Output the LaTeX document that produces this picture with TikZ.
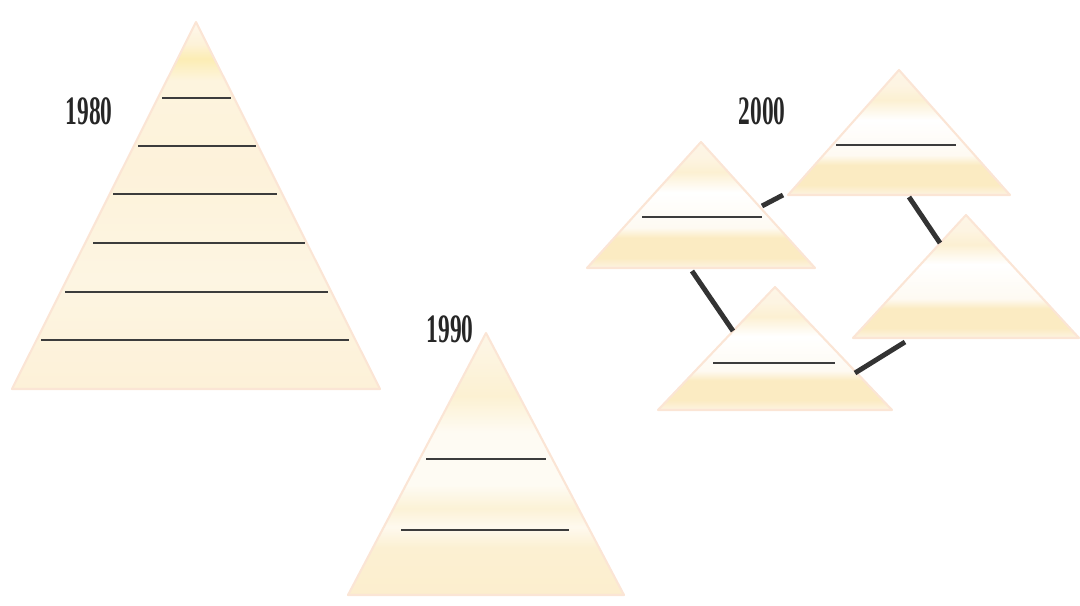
\documentclass[tikz,border=0pt]{standalone}
\usepackage{fontspec}
\setmainfont{Liberation Serif}
\usepackage{tikz}
\definecolor{pyredge}{HTML}{FBE5D5}
\definecolor{rulegray}{HTML}{3C3C3C}
\definecolor{linkgray}{HTML}{333333}
\definecolor{labelgray}{HTML}{262626}
\definecolor{creamA}{HTML}{FDF1D8}
\definecolor{creamB}{HTML}{FDF5E2}
\definecolor{creamC}{HTML}{FDF2DA}
\definecolor{creamD}{HTML}{FDF4DE}
\definecolor{yelspot}{HTML}{FCEDB4}
\definecolor{creamE}{HTML}{FDF2D8}
\definecolor{creamF}{HTML}{FEF7EC}
\definecolor{ninA}{HTML}{FCEECE}
\definecolor{ninB}{HTML}{FCF0D2}
\definecolor{ninC}{HTML}{FEF9EE}
\definecolor{ninD}{HTML}{FCF2D6}
\definecolor{ninE}{HTML}{FEFBF3}
\definecolor{ninF}{HTML}{FCF1D2}
\definecolor{ninG}{HTML}{FDF5E4}
\definecolor{newA}{HTML}{FDF3E2}
\definecolor{newB}{HTML}{FBEBC2}
\definecolor{newC}{HTML}{FEFAF2}
\definecolor{newD}{HTML}{FCF0D2}
\definecolor{newE}{HTML}{FDF4E2}
\definecolor{newF}{HTML}{FDF5E6}
% one shading per era, bottom (25bp) to top (75bp)
\pgfdeclareverticalshading{pyr80}{100bp}{color(0bp)=(creamA); color(25bp)=(creamA);
  color(40bp)=(creamB); color(55bp)=(creamC);
  color(67bp)=(creamD); color(70bp)=(yelspot); color(72bp)=(creamE);
  color(75bp)=(creamF); color(100bp)=(creamF)}
\pgfdeclareverticalshading{pyr90}{100bp}{color(0bp)=(ninA); color(25bp)=(ninA);
  color(34bp)=(ninB); color(38bp)=(ninC); color(41.5bp)=(ninD);
  color(46bp)=(ninE); color(56bp)=(ninE); color(63bp)=(ninF);
  color(73bp)=(ninG); color(100bp)=(ninG)}
\pgfdeclareverticalshading{pyr00}{100bp}{color(0bp)=(newA); color(25bp)=(newA);
  color(29bp)=(newB); color(37bp)=(newB); color(41bp)=(newC);
  color(55bp)=(white); color(63bp)=(newD); color(69bp)=(newE);
  color(75bp)=(newF); color(100bp)=(newF)}

\begin{document}
\begin{tikzpicture}[x=0.02cm, y=-0.02cm, line width=0.7pt,
  year/.style={font=\bfseries\fontsize{23}{23}\selectfont, text=labelgray, inner sep=0pt},
  rule/.style={draw=rulegray, line width=1.1pt},
  link/.style={draw=linkgray, line width=2.8pt}]
% a pyramid: #1 apex x, #2 apex y, #3 half base, #4 height, #5 shading
\newcommand{\pyramid}[5]{%
  \shadedraw[shading=#5, draw=pyredge, line width=1.2pt, line join=round]
    (#1,#2) -- ({#1+#3},{#2+#4}) -- ({#1-#3},{#2+#4}) -- cycle;}
\useasboundingbox (0,0) rectangle (1080,606);

% 1980: one tall pyramid with many levels
\pyramid{196}{22}{184}{367}{pyr80}
\draw[rule] (162,98) -- (231,98);
\draw[rule] (138,146) -- (256,146);
\draw[rule] (113,194) -- (277,194);
\draw[rule] (93,243) -- (305,243);
\draw[rule] (65,292) -- (328,292);
\draw[rule] (41,340) -- (349,340);
\node[year] (y1980) at (89,111) {\scalebox{0.58}[1]{1980}};

% 1990: fewer levels
\pyramid{486}{333}{138}{262}{pyr90}
\draw[rule] (426,459) -- (546,459);
\draw[rule] (401,530) -- (569,530);
\node[year] (y1990) at (450,329) {\scalebox{0.58}[1]{1990}};

% 2000: a ring of flat pyramids
\pyramid{899}{70}{111}{125}{pyr00}   % top
\pyramid{701}{142}{114}{126}{pyr00}  % left
\pyramid{966}{215}{113}{123}{pyr00}  % right
\pyramid{775}{287}{117}{123}{pyr00}  % bottom
\draw[rule] (836,145) -- (956,145);
\draw[rule] (642,217) -- (762,217);
\draw[rule] (713,363) -- (835,363);
\node[year] (y2000) at (762,111) {\scalebox{0.58}[1]{2000}};

% links between the pyramids of the ring
\coordinate (lt1) at (762,206); \coordinate (lt2) at (783,195);
\coordinate (tr1) at (909,197); \coordinate (tr2) at (940,243);
\coordinate (lb1) at (692,271); \coordinate (lb2) at (733,331);
\coordinate (br1) at (855,373); \coordinate (br2) at (905,342);
\draw[link] (lt1) -- (lt2);
\draw[link] (tr1) -- (tr2);
\draw[link] (lb1) -- (lb2);
\draw[link] (br1) -- (br2);
\end{tikzpicture}
\end{document}
